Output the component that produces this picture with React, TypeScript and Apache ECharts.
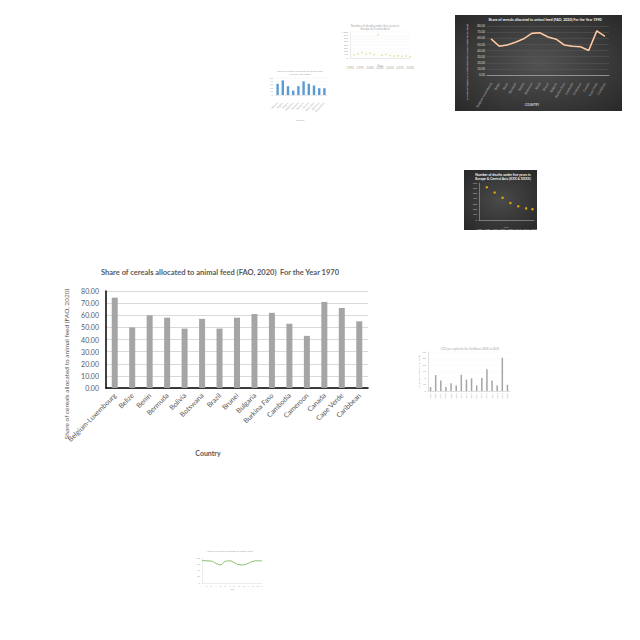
import React, { useEffect, useRef } from "react";
import * as echarts from "echarts";

// Main chart data
const countries = [
  "Belgium-Luxembourg", "Belize", "Benin", "Bermuda", "Bolivia", "Botswana", "Brazil",
  "Brunei", "Bulgaria", "Burkina Faso", "Cambodia", "Cameroon", "Canada", "Cape Verde", "Caribbean",
];
const share1970 = [74.5, 50, 60, 58, 49, 57, 49, 58, 61, 62, 53, 43, 71, 66, 55];

// Dark line thumbnail (1990)
const share1990 = [59, 47, 49, 53.5, 59, 68, 69, 62, 58.5, 49, 47, 46, 40, 72, 63];

// Light scatter thumbnail
const scatterLight = [
  [1992, 120], [1994, 160], [1996, 210], [1998, 150], [2000, 180], [2002, 130],
  [2004, 900], [2006, 110], [2008, 140], [2010, 90], [2012, 70], [2014, 85],
  [2016, 60], [2018, 75], [2020, 55],
];

// Blue bar thumbnail
const blueCats = ["Albania", "Algeria", "Angola", "Argentina", "Armenia", "Australia", "Austria", "Azerbaijan", "Bahamas", "Bangladesh"];
const blueVals = [33, 43, 26, 13, 26, 40, 33, 28, 20, 20];

// Dark scatter thumbnail
const deathsYears = [1990, 1995, 2000, 2005, 2010, 2015, 2019];
const deathsVals = [620, 520, 420, 320, 260, 220, 205];

// Gray bar thumbnail
const grayCats = ["2005", "2006", "2007", "2008", "2009", "2010", "2011", "2012", "2013", "2014", "2015", "2016", "2017", "2018", "2019", "2020"];
const grayVals = [12, 49, 32, 12, 24, 17, 50, 35, 39, 17, 40, 67, 32, 17, 102, 19];

// Green line thumbnail
const greenCats = ["1", "2", "3", "4", "5", "6", "7", "8", "9", "10", "11", "12", "13", "14"];
const greenVals = [72, 71, 70, 63, 58, 69, 71, 65, 59, 58, 63, 69, 71, 71];

const FONT = "Lato, 'Open Sans', sans-serif";
const GRAY = "#595959";

export default function App() {
  const ref = useRef<HTMLDivElement>(null);
  useEffect(() => {
    document.body.style.margin = "0";
    const chart = echarts.init(ref.current!, null, { renderer: "svg" });

    const tinyAxisLabel = (color: string, extra: any = {}) => ({
      color, fontSize: 3, fontFamily: FONT, ...extra,
    });

    const option: any = {
      animation: false,
      backgroundColor: "#ffffff",
      textStyle: { fontFamily: FONT },
      grid: [
        { left: 106, top: 291, width: 262, height: 97 },   // 0 main
        { left: 487, top: 26, width: 122, height: 49 },    // 1 dark line
        { left: 350, top: 32, width: 60, height: 26 },     // 2 light scatter
        { left: 275, top: 78, width: 52, height: 17 },     // 3 blue bars
        { left: 479, top: 183, width: 55, height: 37 },    // 4 dark scatter
        { left: 428, top: 352, width: 82, height: 39 },    // 5 gray bars
        { left: 202, top: 558, width: 60, height: 25 },    // 6 green line
      ],
      xAxis: [
        {
          gridIndex: 0, type: "category", data: countries,
          axisLine: { lineStyle: { color: "#000", width: 1.5 } },
          axisTick: { show: false },
          axisLabel: { interval: 0, rotate: 45, fontSize: 7, color: GRAY, fontFamily: FONT, margin: 6 },
        },
        {
          gridIndex: 1, type: "category", data: countries,
          axisLine: { lineStyle: { color: "#bfbfbf", width: 0.6 } },
          axisTick: { show: false },
          axisLabel: tinyAxisLabel("#bfbfbf", { interval: 0, rotate: 60 }),
        },
        {
          gridIndex: 2, type: "value", min: 1990, max: 2020, interval: 5,
          axisLine: { show: true, lineStyle: { color: "#d9d9d9", width: 0.5 } },
          axisTick: { show: false }, splitLine: { show: false },
          axisLabel: tinyAxisLabel("#a6a6a6"),
        },
        {
          gridIndex: 3, type: "category", data: blueCats,
          axisLine: { lineStyle: { color: "#d9d9d9", width: 0.5 } },
          axisTick: { show: false },
          axisLabel: tinyAxisLabel("#a6a6a6", { interval: 0, rotate: 45, fontSize: 2.5 }),
        },
        {
          gridIndex: 4, type: "value", min: 1985, max: 2020, interval: 5,
          axisLine: { show: true, lineStyle: { color: "#bfbfbf", width: 0.5 } },
          axisTick: { show: false }, splitLine: { show: false },
          axisLabel: tinyAxisLabel("#bfbfbf", { fontSize: 2.5 }),
        },
        {
          gridIndex: 5, type: "category", data: grayCats,
          axisLine: { lineStyle: { color: "#bfbfbf", width: 0.5 } },
          axisTick: { show: false },
          axisLabel: tinyAxisLabel("#a6a6a6", { interval: 0, rotate: 90, fontSize: 2.5, margin: 2 }),
        },
        {
          gridIndex: 6, type: "category", data: greenCats, boundaryGap: false,
          axisLine: { lineStyle: { color: "#d9d9d9", width: 0.5 } },
          axisTick: { show: false },
          axisLabel: tinyAxisLabel("#a6a6a6", { interval: 0, fontSize: 2.4, margin: 2 }),
        },
      ],
      yAxis: [
        {
          gridIndex: 0, type: "value", min: 0, max: 80, interval: 10,
          axisLine: { show: true, lineStyle: { color: "#000", width: 1.5 } },
          axisTick: { show: false },
          splitLine: { lineStyle: { color: "#d9d9d9", width: 1 } },
          axisLabel: { formatter: (v: number) => v.toFixed(2), fontSize: 7, color: GRAY, fontFamily: FONT, margin: 7 },
        },
        {
          gridIndex: 1, type: "value", min: 0, max: 80, interval: 10,
          axisLine: { show: false }, axisTick: { show: false },
          splitLine: { lineStyle: { color: "#5a5a5a", width: 0.5 } },
          axisLabel: tinyAxisLabel("#d9d9d9", { formatter: (v: number) => v.toFixed(2), margin: 2 }),
        },
        {
          gridIndex: 2, type: "value", min: 0, max: 1000, interval: 125,
          axisLine: { show: true, lineStyle: { color: "#d9d9d9", width: 0.5 } },
          axisTick: { show: false },
          splitLine: { lineStyle: { color: "#f0f0f0", width: 0.4 } },
          axisLabel: tinyAxisLabel("#a6a6a6", { margin: 2, fontSize: 2.5 }),
        },
        {
          gridIndex: 3, type: "value", min: 0, max: 50, interval: 10,
          axisLine: { show: false }, axisTick: { show: false },
          splitLine: { lineStyle: { color: "#f0f0f0", width: 0.4 } },
          axisLabel: tinyAxisLabel("#a6a6a6", { margin: 2, fontSize: 2.5 }),
        },
        {
          gridIndex: 4, type: "value", min: 0, max: 700, interval: 100,
          axisLine: { show: true, lineStyle: { color: "#bfbfbf", width: 0.5 } },
          axisTick: { show: false },
          splitLine: { show: false },
          axisLabel: tinyAxisLabel("#bfbfbf", { margin: 2, fontSize: 2.5 }),
        },
        {
          gridIndex: 5, type: "value", min: 0, max: 120, interval: 20,
          axisLine: { show: true, lineStyle: { color: "#bfbfbf", width: 0.5 } },
          axisTick: { show: false },
          splitLine: { lineStyle: { color: "#f2f2f2", width: 0.4 } },
          axisLabel: tinyAxisLabel("#a6a6a6", { margin: 2, fontSize: 2.5 }),
        },
        {
          gridIndex: 6, type: "value", min: 0, max: 80, interval: 20,
          axisLine: { show: true, lineStyle: { color: "#d9d9d9", width: 0.5 } },
          axisTick: { show: false },
          splitLine: { show: false },
          axisLabel: tinyAxisLabel("#a6a6a6", { margin: 2, fontSize: 2.5 }),
        },
      ],
      series: [
        {
          type: "bar", xAxisIndex: 0, yAxisIndex: 0, data: share1970,
          barWidth: 6, itemStyle: { color: "#a5a5a5" },
        },
        {
          type: "line", xAxisIndex: 1, yAxisIndex: 1, data: share1990,
          symbol: "none", lineStyle: { color: "#f4b183", width: 1.6 }, z: 3,
        },
        {
          type: "line", xAxisIndex: 1, yAxisIndex: 1, data: share1990,
          symbol: "none", lineStyle: { color: "#fff2e6", width: 0.5 }, z: 4,
        },
        {
          type: "scatter", xAxisIndex: 2, yAxisIndex: 2, data: scatterLight,
          symbolSize: 1.6, itemStyle: { color: "#d4dc7c" },
        },
        {
          type: "bar", xAxisIndex: 3, yAxisIndex: 3, data: blueVals,
          barWidth: 2.4, itemStyle: { color: "#5b9bd5" },
        },
        {
          type: "scatter", xAxisIndex: 4, yAxisIndex: 4,
          data: deathsYears.map((y, i) => [y, deathsVals[i]]),
          symbolSize: 2.5, itemStyle: { color: "#ffc000" },
        },
        {
          type: "bar", xAxisIndex: 5, yAxisIndex: 5, data: grayVals,
          barWidth: 1.5, itemStyle: { color: "#a5a5a5" },
        },
        {
          type: "line", xAxisIndex: 6, yAxisIndex: 6, data: greenVals, smooth: true,
          symbol: "none", lineStyle: { color: "#70ad47", width: 0.8 },
        },
      ],
      graphic: {
        elements: [
          {
            type: "rect", z: -100, silent: true,
            shape: { x: 455, y: 15, width: 167, height: 96 },
            style: {
              fill: new echarts.graphic.RadialGradient(0.5, 0.5, 0.75, [
                { offset: 0, color: "#525252" },
                { offset: 1, color: "#262626" },
              ]),
            },
          },
          {
            type: "rect", z: -100, silent: true,
            shape: { x: 464, y: 170, width: 73, height: 60 },
            style: {
              fill: new echarts.graphic.RadialGradient(0.5, 0.5, 0.75, [
                { offset: 0, color: "#4a4a4a" },
                { offset: 1, color: "#262626" },
              ]),
            },
          },
          // main chart texts
          {
            type: "text", x: 220, y: 272, z: 100,
            style: {
              text: "Share of cereals allocated to animal feed (FAO, 2020)  For the Year 1970",
              fill: GRAY, font: `bold 7.5px ${FONT}`, align: "center", verticalAlign: "middle",
            },
          },
          {
            type: "text", x: 66, y: 364, rotation: Math.PI / 2, z: 100,
            style: {
              text: "Share of cereals allocated to animal feed (FAO, 2020)",
              fill: GRAY, font: `6.5px ${FONT}`, align: "center", verticalAlign: "middle",
            },
          },
          {
            type: "text", x: 208, y: 453, z: 100,
            style: { text: "Country", fill: GRAY, font: `bold 7px ${FONT}`, align: "center", verticalAlign: "middle" },
          },
          // dark line thumbnail texts
          {
            type: "text", x: 545, y: 19.5, z: 100,
            style: {
              text: "Share of cereals allocated to animal feed (FAO, 2020) For the Year 1990",
              fill: "#f2f2f2", font: `bold 3.6px ${FONT}`, align: "center", verticalAlign: "middle",
            },
          },
          {
            type: "text", x: 467, y: 62, rotation: Math.PI / 2, z: 100,
            style: {
              text: "SHARE OF CEREALS ALLOCATED TO ANIMAL FEED (FAO, 2020)",
              fill: "#d9d9d9", font: `bold 2.6px ${FONT}`, align: "center", verticalAlign: "middle",
            },
          },
          {
            type: "text", x: 532, y: 105, z: 100,
            style: { text: "COUNTRY", fill: "#d9d9d9", font: `bold 3px ${FONT}`, align: "center", verticalAlign: "middle" },
          },
          // light scatter texts
          {
            type: "text", x: 375, y: 27, z: 100,
            style: {
              text: "Number of deaths under five years in\nEurope & Central Asia",
              fill: "#a6a6a6", font: `3px ${FONT}`, align: "center", verticalAlign: "middle", lineHeight: 3.4,
            },
          },
          {
            type: "text", x: 380, y: 66, z: 100,
            style: { text: "Year", fill: "#a6a6a6", font: `3px ${FONT}`, align: "center", verticalAlign: "middle" },
          },
          // blue bars texts
          {
            type: "text", x: 300, y: 72, z: 100,
            style: {
              text: "Share of cereals allocated to animal feed\nFor the Year 2000",
              fill: "#a6a6a6", font: `2.6px ${FONT}`, align: "center", verticalAlign: "middle", lineHeight: 3,
            },
          },
          {
            type: "text", x: 300, y: 120, z: 100,
            style: { text: "Country", fill: "#a6a6a6", font: `2.6px ${FONT}`, align: "center", verticalAlign: "middle" },
          },
          // dark scatter texts
          {
            type: "text", x: 503, y: 177, z: 100,
            style: {
              text: "Number of deaths under five years in\nEurope & Central Asia (XXX & XXXX)",
              fill: "#f2f2f2", font: `bold 3.4px ${FONT}`, align: "center", verticalAlign: "middle", lineHeight: 4,
            },
          },
          {
            type: "text", x: 506, y: 227, z: 100,
            style: { text: "Year", fill: "#bfbfbf", font: `2.6px ${FONT}`, align: "center", verticalAlign: "middle" },
          },
          // gray bars texts
          {
            type: "text", x: 470, y: 349, z: 100,
            style: {
              text: "CO2 per capita for the Caribbean 2005 to 2020",
              fill: "#a6a6a6", font: `2.8px ${FONT}`, align: "center", verticalAlign: "middle",
            },
          },
          {
            type: "text", x: 419, y: 372, rotation: Math.PI / 2, z: 100,
            style: {
              text: "Annual CO2 emissions per capita",
              fill: "#a6a6a6", font: `2.4px ${FONT}`, align: "center", verticalAlign: "middle",
            },
          },
          // green line texts
          {
            type: "text", x: 230, y: 551, z: 100,
            style: {
              text: "Share of cereals allocated to animal feed",
              fill: "#a6a6a6", font: `2.6px ${FONT}`, align: "center", verticalAlign: "middle",
            },
          },
          {
            type: "text", x: 232, y: 589, z: 100,
            style: { text: "Year", fill: "#a6a6a6", font: `2.4px ${FONT}`, align: "center", verticalAlign: "middle" },
          },
        ],
      },
    };
    chart.setOption(option);
    return () => chart.dispose();
  }, []);
  return <div ref={ref} style={{ width: 640, height: 640 }} />;
}
